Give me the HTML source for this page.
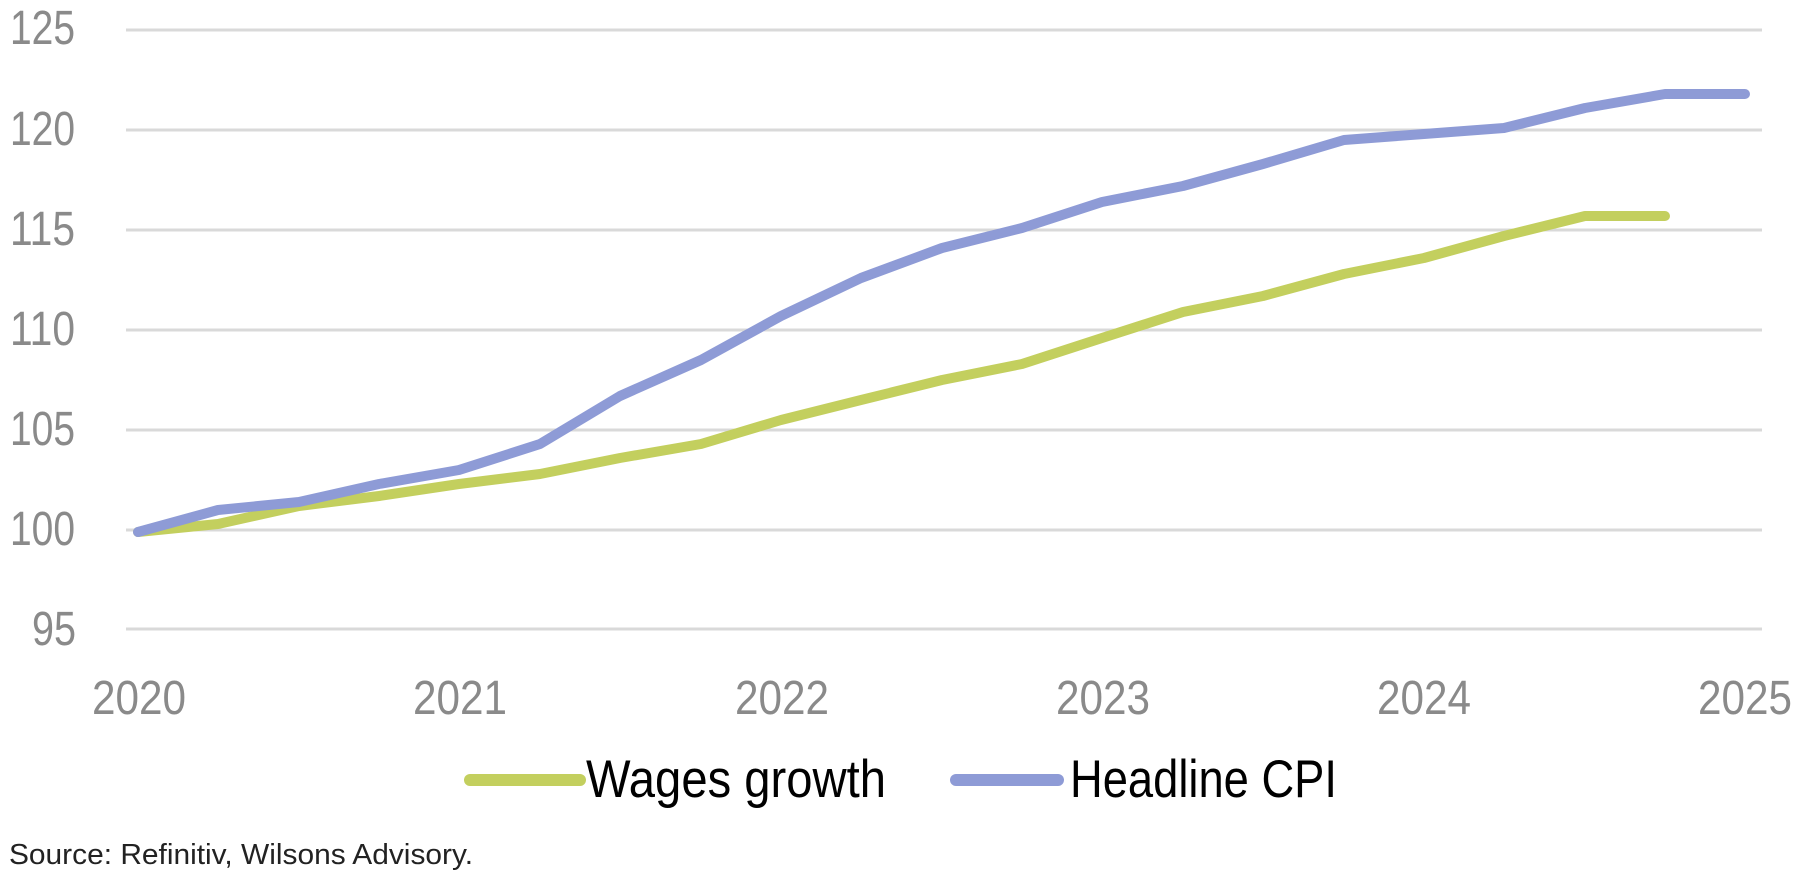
<!DOCTYPE html>
<html><head><meta charset="utf-8"><style>
html,body{margin:0;padding:0;background:#fff;width:1800px;height:882px;overflow:hidden}
svg{display:block}
</style></head><body>
<svg width="1800" height="882" viewBox="0 0 1800 882" xmlns="http://www.w3.org/2000/svg" font-family="Liberation Sans, sans-serif">
<g stroke="#d9d9d9" stroke-width="3">
<line x1="126" x2="1762" y1="30" y2="30"/>
<line x1="126" x2="1762" y1="130" y2="130"/>
<line x1="126" x2="1762" y1="230" y2="230"/>
<line x1="126" x2="1762" y1="330" y2="330"/>
<line x1="126" x2="1762" y1="430" y2="430"/>
<line x1="126" x2="1762" y1="530" y2="530"/>
<line x1="126" x2="1762" y1="629" y2="629"/>
</g>
<g fill="#8a8a8a" font-size="48">
<text x="10" y="44" textLength="65" lengthAdjust="spacingAndGlyphs">125</text>
<text x="10" y="145" textLength="65" lengthAdjust="spacingAndGlyphs">120</text>
<text x="10" y="245" textLength="65" lengthAdjust="spacingAndGlyphs">115</text>
<text x="10" y="345" textLength="65" lengthAdjust="spacingAndGlyphs">110</text>
<text x="10" y="445" textLength="65" lengthAdjust="spacingAndGlyphs">105</text>
<text x="10" y="545" textLength="65" lengthAdjust="spacingAndGlyphs">100</text>
<text x="32" y="645" textLength="44" lengthAdjust="spacingAndGlyphs">95</text>
</g>
<g fill="#8a8a8a" font-size="48">
<text x="92" y="714" textLength="94" lengthAdjust="spacingAndGlyphs">2020</text>
<text x="413" y="714" textLength="94" lengthAdjust="spacingAndGlyphs">2021</text>
<text x="735" y="714" textLength="94" lengthAdjust="spacingAndGlyphs">2022</text>
<text x="1056" y="714" textLength="94" lengthAdjust="spacingAndGlyphs">2023</text>
<text x="1377" y="714" textLength="94" lengthAdjust="spacingAndGlyphs">2024</text>
<text x="1698" y="714" textLength="94" lengthAdjust="spacingAndGlyphs">2025</text>
</g>
<polyline fill="none" stroke="#c3cf5e" stroke-width="10" stroke-linejoin="round" stroke-linecap="round" points="138,532 218,524 299,506 379,496 459,484 540,474 620,458 701,444 781,420 861,400 942,380 1022,364 1102,338 1183,312 1263,296 1344,274 1424,258 1504,236 1585,216 1665,216"/>
<polyline fill="none" stroke="#8e9bd6" stroke-width="10" stroke-linejoin="round" stroke-linecap="round" points="138,532 218,510 299,502 379,484 459,470 540,444 620,396 701,360 781,316 861,278 942,248 1022,228 1102,202 1183,186 1263,164 1344,140 1424,134 1504,128 1585,108 1665,94 1745,94"/>
<line x1="470" x2="580" y1="780" y2="780" stroke="#c3cf5e" stroke-width="12" stroke-linecap="round"/>
<text x="586" y="797" font-size="53" fill="#000" textLength="300" lengthAdjust="spacingAndGlyphs">Wages growth</text>
<line x1="956" x2="1058" y1="780" y2="780" stroke="#8e9bd6" stroke-width="12" stroke-linecap="round"/>
<text x="1070" y="797" font-size="53" fill="#000" textLength="267" lengthAdjust="spacingAndGlyphs">Headline CPI</text>
<text x="9" y="864" font-size="29" fill="#222" textLength="464" lengthAdjust="spacingAndGlyphs">Source: Refinitiv, Wilsons Advisory.</text>
</svg>
</body></html>
